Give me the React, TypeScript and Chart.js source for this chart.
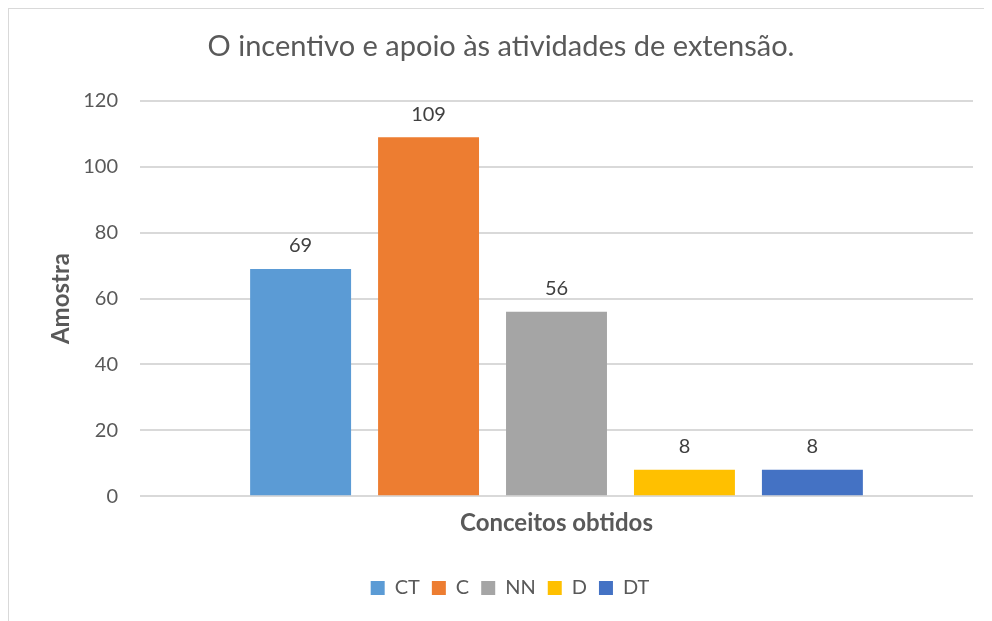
import React, { useEffect, useRef } from "react";
import { Chart, registerables } from "chart.js";

Chart.register(...registerables);

const categories: string[] = [""];
const seriesNames: string[] = ["CT", "C", "NN", "D", "DT"];
const seriesValues: number[] = [69, 109, 56, 8, 8];
const seriesColors: string[] = ["#5B9BD5", "#ED7D31", "#A5A5A5", "#FFC000", "#4472C4"];
const yTicks: number[] = [0, 20, 40, 60, 80, 100, 120];
const titleText = "O incentivo e apoio às atividades de extensão.";

const TEXT = "#595959";
const FONT = "Lato, 'Open Sans', sans-serif";

const valueLabels = {
  id: "valueLabels",
  afterDatasetsDraw(chart: any) {
    const ctx = chart.ctx;
    ctx.save();
    ctx.font = `20px ${FONT}`;
    ctx.fillStyle = "#404040";
    ctx.textAlign = "center";
    ctx.textBaseline = "bottom";
    chart.data.datasets.forEach((ds: any, i: number) => {
      const meta = chart.getDatasetMeta(i);
      meta.data.forEach((el: any, j: number) => {
        ctx.fillText(String(ds.data[j]), el.x, el.y - 13);
      });
    });
    ctx.restore();
  },
};

const chartTitle = {
  id: "chartTitle",
  afterDraw(chart: any) {
    const ctx = chart.ctx;
    ctx.save();
    ctx.font = `29px ${FONT}`;
    ctx.fillStyle = TEXT;
    ctx.textAlign = "center";
    ctx.textBaseline = "middle";
    ctx.fillText(titleText, 492, 38);
    ctx.restore();
  },
};

export default function App() {
  const ref = useRef<HTMLCanvasElement | null>(null);
  useEffect(() => {
    if (!ref.current) return;
    const chart = new Chart(ref.current, {
      type: "bar",
      data: {
        labels: categories,
        datasets: seriesNames.map((name, i) => ({
          label: name,
          data: [seriesValues[i]],
          backgroundColor: seriesColors[i],
          borderWidth: 0,
          categoryPercentage: 0.768,
          barPercentage: 0.789,
        })),
      },
      options: {
        animation: false,
        responsive: true,
        maintainAspectRatio: false,
        layout: { padding: { left: 38, right: 19, top: 92, bottom: 13 } },
        plugins: {
          title: { display: false },
          legend: {
            position: "bottom",
            labels: {
              color: TEXT,
              font: { family: FONT, size: 20 },
              boxWidth: 14,
              boxHeight: 14,
              padding: 12,
            },
          },
          tooltip: { enabled: false },
        },
        scales: {
          x: {
            grid: { display: false },
            border: { display: false },
            ticks: { display: false },
            title: {
              display: true,
              text: "Conceitos obtidos",
              color: TEXT,
              font: { family: FONT, size: 24, weight: "bold" },
              padding: { top: 5, bottom: 28 },
            },
          },
          y: {
            min: 0,
            max: 120,
            afterBuildTicks(scale: any) {
              scale.ticks = yTicks.map((v) => ({ value: v }));
            },
            afterFit(scale: any) {
              scale.width = 93;
            },
            grid: { color: "#d9d9d9", lineWidth: 2, drawTicks: false },
            border: { display: false },
            ticks: {
              color: TEXT,
              font: { family: FONT, size: 20 },
              padding: 22,
            },
            title: {
              display: true,
              text: "Amostra",
              color: TEXT,
              font: { family: FONT, size: 24, weight: "bold" },
              padding: { top: 0, bottom: 0 },
            },
          },
        },
      },
      plugins: [valueLabels, chartTitle],
    });
    return () => chart.destroy();
  }, []);
  return (
    <div
      style={{
        width: 984,
        height: 613,
        boxSizing: "border-box",
        borderLeft: "1px solid #d9d9d9",
        borderTop: "1px solid #d9d9d9",
        background: "#fff",
        position: "relative",
      }}
    >
      <canvas ref={ref} />
    </div>
  );
}
